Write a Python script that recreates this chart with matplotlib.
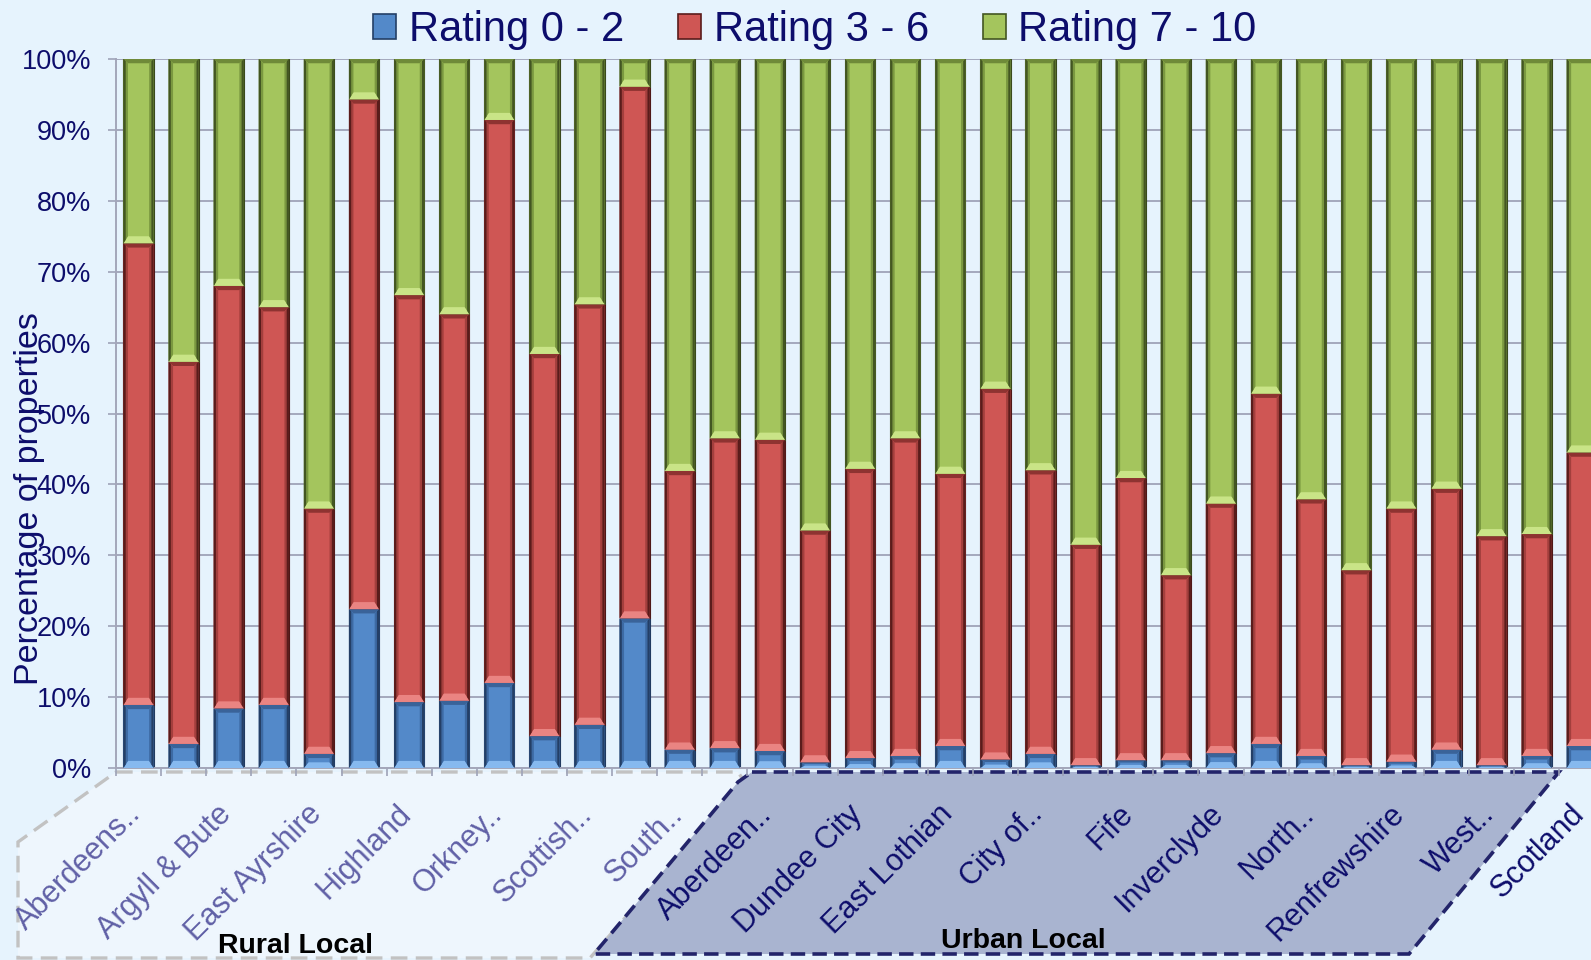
import numpy as np
import matplotlib.pyplot as plt
from matplotlib.patches import Patch, Polygon
from matplotlib.collections import PolyCollection
from matplotlib.transforms import ScaledTranslation

plt.rcParams['font.family'] = ['Liberation Sans', 'DejaVu Sans']

# council areas, left to right; only every second one carries a label
tick_labels = ['Aberdeens..', 'Argyll & Bute', 'East Ayrshire', 'Highland', 'Orkney..',
               'Scottish..', 'South..', 'Aberdeen..', 'Dundee City', 'East Lothian',
               'City of..', 'Fife', 'Inverclyde', 'North..', 'Renfrewshire', 'West..',
               'Scotland']
n_rural = 14
n_urban = 18

series = ['Rating 0 - 2', 'Rating 3 - 6', 'Rating 7 - 10']
rating_low = [8.9, 3.4, 8.4, 8.9, 2.0, 22.4, 9.3, 9.5, 12.0, 4.5, 6.1, 21.1, 2.6, 2.8,
              2.4, 0.8, 1.4, 1.7, 3.1, 1.2, 2.0, 0.4, 1.1, 1.1, 2.1, 3.4, 1.7, 0.4,
              0.9, 2.6, 0.4, 1.7, 3.1]
rating_mid = [65.1, 53.9, 59.6, 56.1, 34.6, 71.9, 57.4, 54.5, 79.4, 53.9, 59.3, 75.0,
              39.3, 43.7, 43.9, 32.7, 40.8, 44.8, 38.4, 52.3, 40.0, 31.1, 39.8, 26.1,
              35.2, 49.4, 36.2, 27.5, 35.7, 36.8, 32.3, 31.3, 41.4]
rating_high = [26.0, 42.7, 32.0, 35.0, 63.4, 5.7, 33.3, 36.0, 8.6, 41.6, 34.6, 3.9,
               58.1, 53.5, 53.7, 66.5, 57.8, 53.5, 58.5, 46.5, 58.0, 68.5, 59.1, 72.8,
               62.7, 47.2, 62.1, 72.1, 63.4, 60.6, 67.3, 67.0, 55.5]

BG = '#e6f3fd'
NAVY = '#0d0d6b'
RURAL_TXT = '#6060a6'
GRID = '#9ea3b8'

# face, bottom bevel, top bevel, outer side, inner side, outline
SHADES = [
    ('#5389c9', '#86b9ef', '#3a6399', '#243f66', '#3d6aa3', '#203a60'),
    ('#cf5654', '#ea8482', '#8e3331', '#5a1c1b', '#a33f3d', '#4e1817'),
    ('#a4c55d', '#c9e487', '#6f8a39', '#435622', '#7a9840', '#3a4a1c'),
]

W_PX, H_PX = 1591, 960


def px(x, y):
    return x / W_PX, 1 - y / H_PX


def bevel_polys(xs, bottoms, heights, width, shade):
    polys, colors = [], []
    for x, b, h in zip(xs, bottoms, heights):
        if h <= 0:
            continue
        x0, x1, t = x - width / 2, x + width / 2, b + h
        s = 0.1
        hb = min(1.0, h * 0.4)
        ht = min(0.6, h * 0.3)
        polys += [
            [(x0, b), (x1, b), (x1 - s, b + hb), (x0 + s, b + hb)],
            [(x0, t), (x1, t), (x1 - s, t - ht), (x0 + s, t - ht)],
            [(x0, b), (x0 + s, b + hb), (x0 + s, t - ht), (x0, t)],
            [(x1, b), (x1 - s, b + hb), (x1 - s, t - ht), (x1, t)],
            [(x0, b), (x0 + s / 2, b + hb / 2), (x0 + s / 2, t - ht / 2), (x0, t)],
            [(x1, b), (x1 - s / 2, b + hb / 2), (x1 - s / 2, t - ht / 2), (x1, t)],
        ]
        colors += [shade[1], shade[2], shade[4], shade[4], shade[3], shade[3]]
    return polys, colors


fig = plt.figure(figsize=(W_PX / 100, H_PX / 100), dpi=100, facecolor=BG)
ax = fig.add_axes([116 / W_PX, 0.2, 33 * 45.1 / W_PX, 709 / H_PX])
ax.set_facecolor(BG)

n = len(rating_low)
xs = np.arange(n)
width = 0.67
bottom = np.zeros(n)
handles = []
for vals, shade, name in zip([rating_low, rating_mid, rating_high], SHADES, series):
    vals = np.array(vals)
    ax.bar(xs, vals, width, bottom=bottom, color=shade[0], edgecolor=shade[5],
           linewidth=0.8, zorder=2)
    polys, colors = bevel_polys(xs, bottom, vals, width, shade)
    ax.add_collection(PolyCollection(polys, facecolors=colors, linewidths=0, zorder=3))
    handles.append(Patch(facecolor=shade[0], edgecolor=shade[3], linewidth=1.2))
    bottom = bottom + vals

ax.set_xlim(-0.5, n - 0.5)
ax.set_ylim(0, 100)

ax.set_yticks(range(0, 101, 10))
ax.set_yticklabels([f'{v}%' for v in range(0, 101, 10)])
ax.tick_params(axis='y', length=6, width=1.2, color=GRID, labelsize=19.5,
               labelcolor=NAVY, pad=12)
ax.yaxis.grid(True, color=GRID, lw=1.3)
ax.set_axisbelow(True)

ax.set_xticks(range(0, n, 2))
ax.set_xticklabels(tick_labels, rotation=45, ha='right', va='center',
                   rotation_mode='anchor', fontsize=22)
ax.set_xticks(np.arange(-0.5, n, 1), minor=True)
ax.tick_params(axis='x', which='major', length=0, pad=30)
ax.tick_params(axis='x', which='minor', length=6, width=1.2, color=GRID, direction='out')
shift = ScaledTranslation(-0.02, 0, fig.dpi_scale_trans)
for i, lbl in enumerate(ax.get_xticklabels()):
    lbl.set_color(RURAL_TXT if 2 * i < n_rural else NAVY)
    lbl.set_transform(lbl.get_transform() + shift)

for side in ['top', 'right']:
    ax.spines[side].set_visible(False)
for side in ['left', 'bottom']:
    ax.spines[side].set_color('#a3a6ba')
    ax.spines[side].set_linewidth(1.4)

ax.set_ylabel('Percentage of properties', fontsize=24.5, color=NAVY)
ax.yaxis.set_label_coords(-0.048, 0.38)

# group outlines below the category axis
rural_box = Polygon([px(116, 772), px(738, 772), px(744, 781), px(590, 958),
                     px(18, 958), px(18, 842)], closed=True, transform=fig.transFigure,
                    facecolor='#eef6fd', edgecolor='#c2c2c2', lw=2.4,
                    linestyle=(0, (5, 2.5)), zorder=-1)
urban_box = Polygon([px(752, 772), px(1559, 772), px(1409, 954), px(594, 954),
                     px(738, 782)], closed=True, transform=fig.transFigure,
                    facecolor='#a9b4d0', edgecolor='#23246a', lw=2.6,
                    linestyle=(0, (4, 2)), zorder=-1)
fig.add_artist(rural_box)
fig.add_artist(urban_box)
fig.text(*px(296, 959), 'Rural Local', ha='center', va='bottom', fontsize=20.5,
         fontweight='bold', color='black')
fig.text(*px(1023, 948), 'Urban Local', ha='center', va='baseline', fontsize=20.5,
         fontweight='bold', color='black')

fig.legend(handles, series, loc='center', bbox_to_anchor=px(815, 30), ncol=3,
           frameon=False, fontsize=30, labelcolor=NAVY, handlelength=0.55,
           handleheight=0.55, handletextpad=0.3, columnspacing=1.3)

fig.savefig('out.png', dpi=100, facecolor=BG)
